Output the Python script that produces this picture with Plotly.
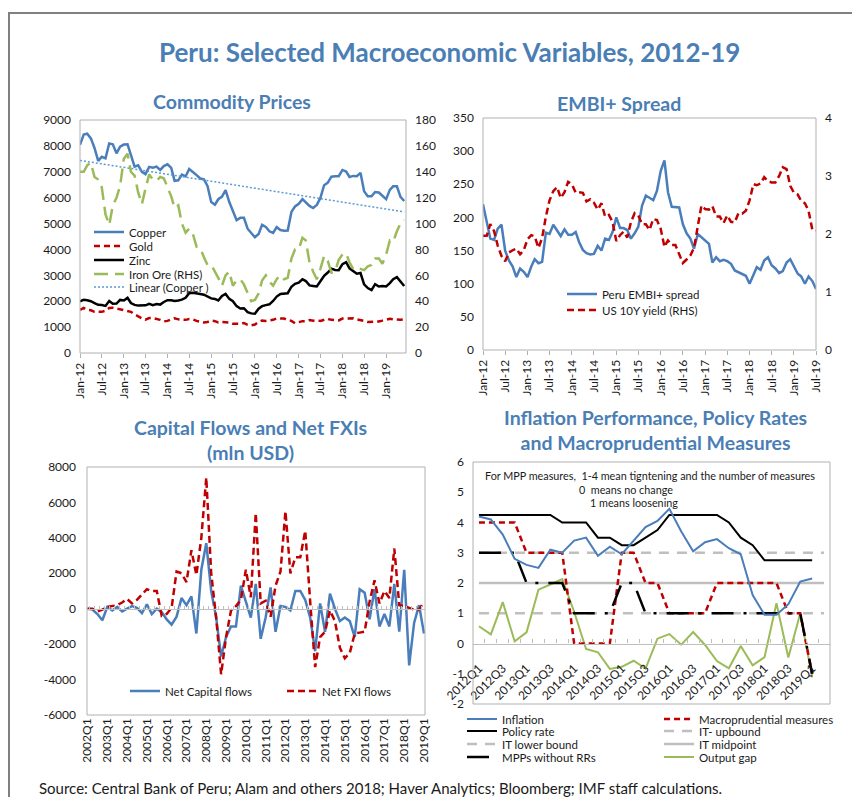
import pandas as pd
import plotly.graph_objects as go

# ---------------- Commodity prices, monthly Jan-12 .. Jun-19 ----------------
commodity_months = pd.date_range("2012-01-01", periods=90, freq="MS")

copper = [
    8040, 8440, 8470, 8290, 7920, 7420, 7580, 7520, 8090, 8060, 7710, 7970,
    8050, 8060, 7650, 7200, 7250, 7000, 6910, 7190, 7160, 7200, 7070, 7220,
    7290, 7150, 6650, 6670, 6890, 6820, 7110, 7000, 6870, 6740, 6710, 6450,
    5830, 5730, 5940, 6040, 6290, 5830, 5460, 5130, 5220, 5220, 4800, 4640,
    4470, 4600, 4950, 4870, 4700, 4640, 4860, 4750, 4720, 4730, 5450, 5660,
    5760, 5940, 5820, 5680, 5600, 5720, 5990, 6480, 6580, 6810, 6830, 6830,
    7070, 7010, 6800, 6840, 6830, 6960, 6250, 6050, 6050, 6220, 6200, 6070,
    5940, 6300, 6440, 6440, 6030, 5870,
]
gold = [
    1660, 1740, 1670, 1650, 1590, 1600, 1590, 1630, 1740, 1750, 1720, 1690,
    1670, 1630, 1590, 1490, 1410, 1340, 1290, 1350, 1350, 1320, 1280, 1220,
    1240, 1300, 1340, 1300, 1290, 1280, 1310, 1300, 1240, 1220, 1180, 1200,
    1250, 1230, 1180, 1200, 1200, 1180, 1130, 1120, 1130, 1160, 1090, 1070,
    1100, 1200, 1250, 1240, 1260, 1280, 1340, 1340, 1330, 1270, 1240, 1150,
    1190, 1230, 1230, 1270, 1250, 1260, 1240, 1280, 1320, 1280, 1280, 1260,
    1330, 1330, 1330, 1340, 1300, 1280, 1240, 1200, 1200, 1220, 1220, 1250,
    1290, 1320, 1300, 1290, 1280, 1300,
]
zinc = [
    1990, 2060, 2040, 2000, 1930, 1860, 1850, 1820, 2010, 1900, 1910, 2050,
    2030, 2130, 1930, 1860, 1830, 1840, 1840, 1900, 1850, 1890, 1870, 1970,
    2040, 2040, 2010, 2030, 2060, 2130, 2310, 2330, 2290, 2280, 2250, 2170,
    2110, 2090, 2030, 2200, 2280, 2090, 2000, 1810, 1720, 1730, 1580, 1530,
    1520, 1710, 1810, 1850, 1880, 2010, 2180, 2280, 2290, 2310, 2560, 2670,
    2720, 2850, 2780, 2610, 2590, 2570, 2770, 2980, 3110, 3260, 3210, 3200,
    3430, 3510, 3270, 3180, 3060, 3090, 2650, 2510, 2430, 2660, 2570, 2590,
    2570, 2700, 2850, 2930, 2770, 2590,
]
iron_ore = [
    140, 140, 145, 147, 136, 134, 128, 107, 99, 114, 120, 129,
    150, 154, 140, 137, 124, 115, 127, 138, 134, 133, 136, 135,
    128, 121, 112, 114, 100, 93, 96, 92, 82, 81, 74, 68,
    68, 63, 58, 52, 60, 63, 52, 56, 57, 53, 47, 40,
    41, 46, 56, 60, 55, 52, 57, 60, 57, 58, 73, 80,
    80, 89, 87, 70, 63, 57, 65, 75, 71, 62, 63, 72,
    76, 77, 70, 65, 66, 65, 64, 67, 68, 73, 73, 69,
    76, 87, 86, 94, 100, 103,
]
# Excel linear trendline of copper, read at its two ends
copper_trend = [7440, 5450]

# ---------------- EMBI+ spread, monthly Jan-12 .. Jul-19 ----------------
embi_months = pd.date_range("2012-01-01", periods=91, freq="MS")

embi_spread = [
    220, 195, 168, 166, 183, 189, 150, 135, 126, 110, 123, 118,
    110, 126, 137, 131, 133, 177, 175, 189, 181, 172, 182, 174,
    174, 178, 163, 151, 146, 144, 145, 157, 150, 168, 166, 178,
    200, 184, 184, 181, 168, 176, 186, 218, 233, 229, 226, 240,
    270, 286, 238, 216, 216, 215, 190, 176, 168, 153, 175, 170,
    166, 160, 132, 140, 134, 136, 134, 130, 120, 117, 115, 112,
    100, 112, 125, 121, 135, 140, 128, 123, 116, 119, 132, 137,
    126, 115, 111, 100, 111, 104, 92,
]
us_10y = [
    1.97, 1.97, 2.17, 2.05, 1.80, 1.62, 1.53, 1.68, 1.72, 1.75, 1.65, 1.72,
    1.91, 1.98, 1.96, 1.76, 1.93, 2.30, 2.58, 2.74, 2.81, 2.62, 2.72, 2.90,
    2.86, 2.71, 2.72, 2.71, 2.56, 2.60, 2.54, 2.42, 2.53, 2.30, 2.33, 2.21,
    1.88, 1.98, 2.04, 1.94, 2.20, 2.36, 2.32, 2.17, 2.17, 2.07, 2.26, 2.24,
    2.09, 1.78, 1.89, 1.81, 1.81, 1.64, 1.50, 1.56, 1.63, 1.76, 2.14, 2.49,
    2.43, 2.42, 2.48, 2.30, 2.30, 2.19, 2.32, 2.21, 2.20, 2.36, 2.35, 2.40,
    2.58, 2.86, 2.84, 2.87, 2.98, 2.91, 2.89, 2.89, 3.00, 3.15, 3.12, 2.83,
    2.71, 2.68, 2.57, 2.53, 2.40, 2.07, 2.06,
]

# ---------------- Capital flows, quarterly 2002Q1 .. 2019Q1 ----------------
cf_quarters = [f"{y}Q{q}" for y in range(2002, 2020) for q in range(1, 5)][:69]

net_capital_flows = [
    0, -50, -300, -650, 100, -100, 100, -150, 0, 150, 50, -250,
    250, -300, 0, -200, -600, -900, -450, 600, 200, 700, -1400, 2200,
    3700, 1000, -500, -2700, -1600, -1000, -1000, 1300, 400, -500, 1400, -1700,
    -500, 1200, -1300, 150, 100, -100, 1000, 1000, 500, -500, -2400, 300,
    -1300, 850, 0, -700, -500, -700, -1600, 1100, 900, -600, 1100, -1000,
    -300, -1000, 1400, -1300, 2200, -3200, -800, 200, -1400,
]
net_fxi_flows = [
    0, 0, -150, -50, 100, 150, 200, 350, 550, 300, 500, 800,
    1100, 1000, 1000, -400, -300, 50, 2100, 2000, 1500, 3300, 1900, 4000,
    7400, 2000, -500, -3700, -1600, -100, 150, 500, 2200, 650, 5400, 300,
    450, -450, 1300, 2100, 5500, 2000, 2900, 2900, 4400, 400, -3300, -1600,
    -1300, -100, -700, -2200, -2800, -2500, -1400, -1350, -1300, 400, 1600, 300,
    1000, 600, 3400, 200, 150, 50, -50, -50, 400,
]

# ---------------- Inflation / policy, quarterly 2012Q1 .. 2019Q2 ----------------
inf_quarters = [f"{y}Q{q}" for y in range(2012, 2020) for q in range(1, 5)][:30]

inflation = [4.2, 4.1, 3.6, 2.8, 2.6, 2.5, 3.1, 3.0, 3.4, 3.5, 2.9, 3.2, 2.95, 3.4, 3.85,
             4.05, 4.45, 3.7, 3.05, 3.35, 3.45, 3.15, 2.95, 1.6, 0.95, 0.95, 1.3, 2.05, 2.15]
policy_rate = [4.25, 4.25, 4.25, 4.25, 4.25, 4.25, 4.25, 4.0, 4.0, 4.0, 3.5, 3.5, 3.25, 3.25, 3.5,
               3.75, 4.25, 4.25, 4.25, 4.25, 4.25, 4.0, 3.5, 3.25, 2.75, 2.75, 2.75, 2.75, 2.75]
macroprudential = [4, 4, 4, 4, 3, 3, 3, 3, 0, 0, 0, 0, 3, 3, 2,
                   2, 1, 1, 1, 1, 2, 2, 2, 2, 2, 2, 1, 1, -1]
mpp_without_rr = [3, 3, 3, 3, 2, 2, 2, 2, 1, 1, 1, 1, 2, 2, 1,
                  1, 1, 1, 1, 1, 1, 1, 1, 1, 1, 1, 1, 1, -1]
output_gap = [0.57, 0.3, 1.37, 0.07, 0.37, 1.78, 1.95, 2.13, 1.05, -0.18, -0.29, -0.84, -0.77, -0.57, -0.83,
              0.16, 0.31, -0.04, 0.38, -0.05, -0.58, -0.82, -0.08, -0.72, -0.45, 1.33, -0.46, 1.0, -1.12]
it_upper = [3] * 30
it_lower = [1] * 30
it_mid = [2] * 30

# ---------------- style ----------------
W, H = 860, 797
OFF = 8  # the page body keeps its default 8px margin, so the figure sits 8px in
FONT = "Lato, 'Open Sans', sans-serif"
TITLE_BLUE = "#4a7eb4"
BLUE = "#4a7ebb"
RED = "#c00000"
GREEN = "#9bbb59"
GRAY = "#bfbfbf"
FRAME = "#b0b0b0"


def fx(px):
    return (px - OFF) / W


def fy(py):
    return 1 - (py - OFF) / H


fig = go.Figure()
legends = {}


def add_line(x, y, name, xaxis, yaxis, color, width, dash, legend_at):
    key = "legend" if not legends else f"legend{len(legends) + 1}"
    legends[key] = dict(x=fx(legend_at[0] - 5), y=fy(legend_at[1]), xanchor="left", yanchor="middle",
                        bgcolor="rgba(0,0,0,0)", borderwidth=0, itemwidth=30,
                        font=dict(family=FONT, size=11.5, color="#1a1a1a"))
    fig.add_trace(go.Scatter(x=x, y=y, name=name, mode="lines", xaxis=xaxis, yaxis=yaxis,
                             line=dict(color=color, width=width, dash=dash),
                             legend=key, showlegend=True, hoverinfo="skip"))


# panel 1
add_line(commodity_months, copper, "Copper", "x", "y", BLUE, 2.5, "solid", (94, 232))
add_line(commodity_months, gold, "Gold", "x", "y", RED, 2.5, "6px,4px", (94, 246))
add_line(commodity_months, zinc, "Zinc", "x", "y", "#000000", 2.5, "solid", (94, 260))
add_line(commodity_months, iron_ore, "Iron Ore (RHS)", "x", "y2", GREEN, 2.5, "14px,7px", (94, 274))
add_line([commodity_months[0], commodity_months[-1]], copper_trend, "Linear (Copper )", "x", "y",
         "#5b9bd5", 1.5, "2px,2px", (94, 287))

# panel 2
add_line(embi_months, embi_spread, "Peru EMBI+ spread", "x2", "y3", BLUE, 2.5, "solid", (567, 294))
add_line(embi_months, us_10y, "US 10Y yield (RHS)", "x2", "y4", RED, 2.5, "7px,4px", (567, 310))

# panel 3
add_line(cf_quarters, net_capital_flows, "Net Capital flows", "x3", "y5", BLUE, 2.5, "solid", (130, 691))
add_line(cf_quarters, net_fxi_flows, "Net FXI flows", "x4", "y5", RED, 2.5, "7px,4px", (287, 691))

# panel 4 (IT band underneath, on the zero-line axis)
add_line(inf_quarters, it_upper, "IT- upbound", "x5", "y6", GRAY, 2.5, "10px,8px", (664, 731))
add_line(inf_quarters, it_lower, "IT lower bound", "x5", "y6", GRAY, 2.5, "10px,8px", (467, 744))
add_line(inf_quarters, it_mid, "IT midpoint", "x5", "y6", GRAY, 2.5, "solid", (664, 744))
q29 = inf_quarters[:29]
add_line(q29, output_gap, "Output gap", "x6", "y6", GREEN, 2, "solid", (664, 757))
add_line(q29, macroprudential, "Macroprudential measures", "x6", "y6", RED, 2.5, "6px,4px", (664, 719))
add_line(q29, mpp_without_rr, "MPPs without RRs", "x6", "y6", "#000000", 2.5, "22px,10px,3px,10px", (467, 757))
add_line(q29, policy_rate, "Policy rate", "x6", "y6", "#000000", 2, "solid", (467, 731))
add_line(q29, inflation, "Inflation", "x6", "y6", BLUE, 2, "solid", (467, 719))

# ---------------- axes ----------------
d1x, d1y = [fx(80), fx(406)], [fy(353), fy(120)]
d2x, d2y = [fx(483), fx(816)], [fy(350), fy(118)]
d3x, d3y = [fx(87), fx(425)], [fy(715), fy(467)]
d4x, d4y = [fx(473), fx(830)], [fy(704), fy(462)]
zero3 = d3y[0] + 6000 / 14000 * (d3y[1] - d3y[0])
zero4 = d4y[0] + 2 / 8 * (d4y[1] - d4y[0])

tickfont = dict(family=FONT, size=12, color="#1a1a1a")
base = dict(showgrid=False, zeroline=False, showline=False, tickfont=tickfont, automargin=False)

date_axis = dict(base, type="date", dtick="M6", tick0="2012-01-01", tickformat="%b-%y",
                 tickangle=-90, ticks="outside", ticklen=4, tickcolor=FRAME)

cf_range = [-0.1, 68.2]
inf_range = [-0.5, 29.5]

fig.update_layout(
    width=W, height=H,
    margin=dict(l=0, r=0, t=0, b=0, autoexpand=False),
    paper_bgcolor="white", plot_bgcolor="white",
    font=dict(family=FONT, color="#1a1a1a"),
    hovermode=False,
    showlegend=True,
    xaxis=dict(date_axis, domain=d1x, anchor="y", range=["2012-01-01", "2019-06-16"]),
    yaxis=dict(base, domain=d1y, anchor="x", range=[0, 9000], dtick=1000, ticklabelstandoff=8),
    yaxis2=dict(base, overlaying="y", side="right", anchor="x", range=[0, 180], dtick=20,
                ticklabelstandoff=8),
    xaxis2=dict(date_axis, domain=d2x, anchor="y3", range=["2012-01-01", "2019-07-01"]),
    yaxis3=dict(base, domain=d2y, anchor="x2", range=[0, 350], dtick=50, ticklabelstandoff=8),
    yaxis4=dict(base, overlaying="y3", side="right", anchor="x2", range=[0, 4], dtick=1,
                ticklabelstandoff=8),
    xaxis3=dict(base, domain=d3x, anchor="y5", type="category", categoryorder="array",
                categoryarray=cf_quarters, range=cf_range, tickvals=cf_quarters[::4],
                tickangle=-90, ticks=""),
    xaxis4=dict(base, overlaying="x3", anchor="free", position=zero3, type="category",
                categoryorder="array", categoryarray=cf_quarters, range=cf_range,
                showticklabels=False, ticks="inside", ticklen=3, tickcolor=GRAY, dtick=1,
                tickson="boundaries", showline=True, linecolor=GRAY, linewidth=1.2),
    yaxis5=dict(base, domain=d3y, anchor="x3", range=[-6000, 8000],
                tickvals=list(range(-6000, 8001, 2000)),
                ticktext=[str(v) for v in range(-6000, 8001, 2000)], ticklabelstandoff=10),
    xaxis5=dict(base, domain=d4x, anchor="free", position=zero4, type="category",
                categoryorder="array", categoryarray=inf_quarters, range=inf_range,
                showticklabels=False, ticks="inside", ticklen=4, tickcolor=GRAY, dtick=1,
                tickson="boundaries", showline=True, linecolor=GRAY, linewidth=1.2),
    xaxis6=dict(base, overlaying="x5", anchor="free", position=fy(658), type="category",
                categoryorder="array", categoryarray=inf_quarters, range=inf_range,
                tickvals=inf_quarters[:29:2], tickangle=-45, ticks=""),
    yaxis6=dict(base, domain=d4y, anchor="x5", range=[-2, 6], tickvals=list(range(-2, 7)),
                ticktext=[str(v) for v in range(-2, 7)], ticklabelstandoff=8),
    **legends,
)

# plot-area frames and outer border
frames = [("x", "y"), ("x2", "y3"), ("x3", "y5"), ("x5", "y6")]
shapes = [dict(type="rect", xref=f"{xa} domain", yref=f"{ya} domain", x0=0, x1=1, y0=0, y1=1,
               line=dict(color=FRAME, width=1)) for xa, ya in frames]
shapes.append(dict(type="rect", xref="paper", yref="paper", x0=fx(9), x1=fx(857), y0=-0.05, y1=fy(13),
                   line=dict(color="#808080", width=2)))
fig.update_layout(shapes=shapes)


# ---------------- titles and notes ----------------
def note(text, px, py, size, color="#1a1a1a", bold=False, xanchor="center"):
    fig.add_annotation(text=f"<b>{text}</b>" if bold else text, x=fx(px), y=fy(py),
                       xref="paper", yref="paper", xanchor=xanchor, yanchor="middle",
                       showarrow=False, font=dict(family=FONT, size=size, color=color))


note("Peru: Selected Macroeconomic Variables, 2012-19", 450, 52, 26, TITLE_BLUE, True)
note("Commodity Prices", 232, 101, 19.5, TITLE_BLUE, True)
note("EMBI+ Spread", 619, 104, 19.5, TITLE_BLUE, True)
note("Capital Flows and Net FXIs<br>(mln USD)", 250, 440, 19.5, TITLE_BLUE, True)
note("Inflation Performance, Policy Rates<br>and Macroprudential Measures", 655, 430, 19.5, TITLE_BLUE, True)
note("For MPP measures,\u00a0 1-4 mean tigntening and the number of measures", 650, 475, 10.8)
note("0\u00a0 means no change", 626, 489, 10.8)
note("1 means loosening", 634, 503, 10.8)
note("Source: Central Bank of Peru; Alam and others 2018; Haver Analytics; Bloomberg; IMF staff calculations.",
     37, 788, 15, xanchor="left")

fig.write_html("out.html")
